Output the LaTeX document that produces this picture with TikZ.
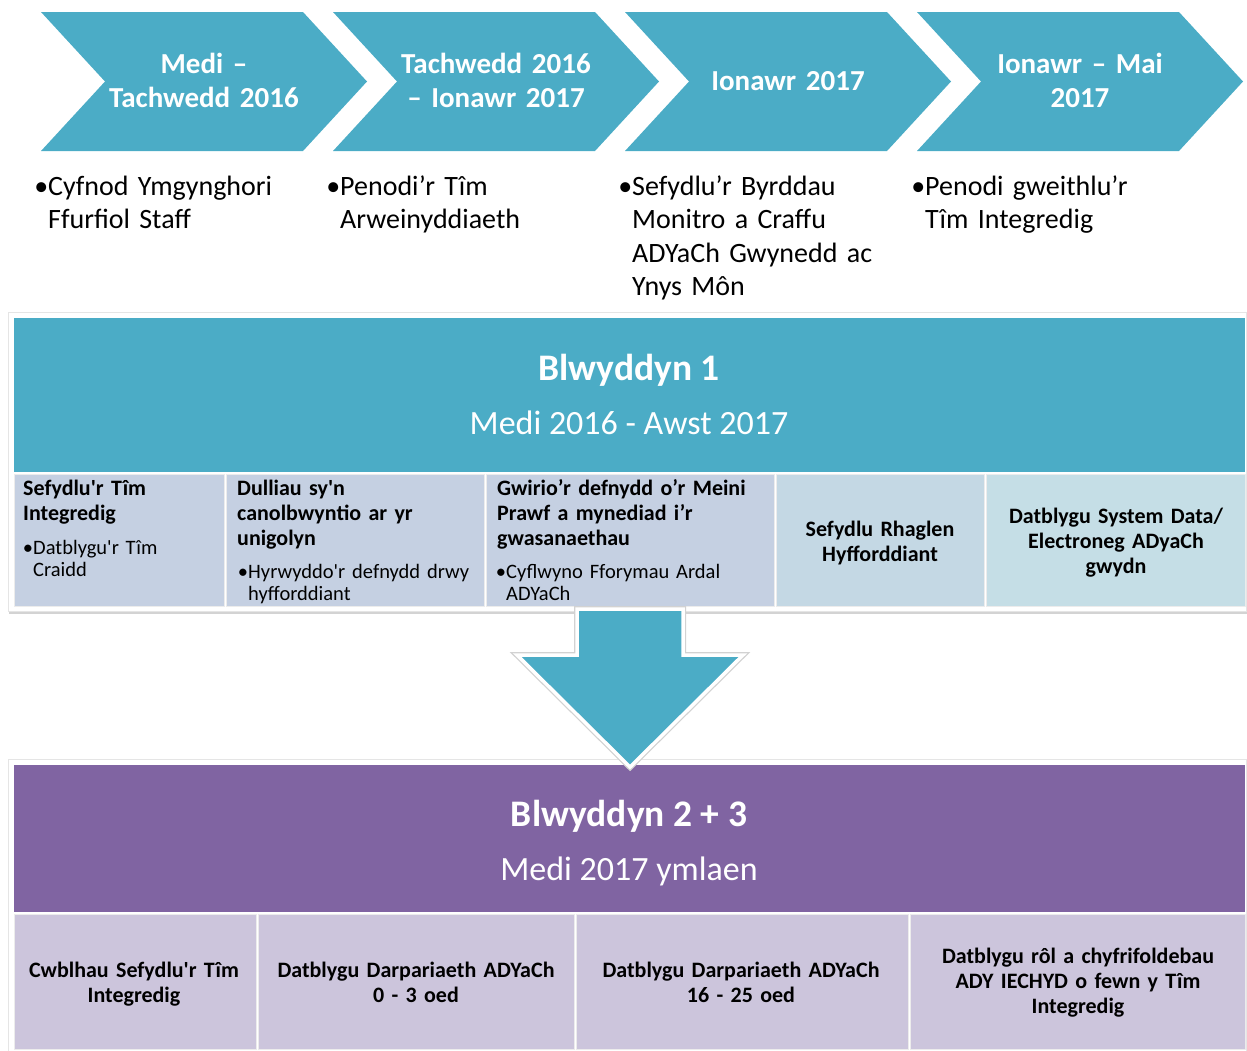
\documentclass[tikz,border=0pt]{standalone}
\usepackage{fontspec}
\setmainfont{Carlito}
\usepackage{xcolor}
\usepackage{tikz}
\usetikzlibrary{shadows}
\definecolor{stepteal}{HTML}{4BACC6}
\definecolor{yearpurple}{HTML}{8064A2}
\definecolor{boxblue}{HTML}{C5D0E2}
\definecolor{boxbluetwo}{HTML}{C4D8E4}
\definecolor{boxbluethree}{HTML}{C5DEE6}
\definecolor{boxlilac}{HTML}{CCC5DC}
\newcommand{\ap}{\textquotesingle}
\tikzset{
	chevtext/.style={text=white, anchor=base, align=center, text width=260pt, inner sep=0pt, font=\bfseries\fontsize{29}{34}\selectfont},
	pointtext/.style={anchor=base west, align=left, text width=280pt, inner sep=0pt, font=\fontsize{28}{33.5}\selectfont},
	yeartitle/.style={text=white, anchor=base, inner sep=0pt, font=\bfseries\fontsize{37.5}{42}\selectfont},
	yearsub/.style={text=white, anchor=base, inner sep=0pt, font=\fontsize{34}{40}\selectfont},
	headtext/.style={anchor=base west, align=left, text width=270pt, inner sep=0pt, font=\bfseries\fontsize{22}{25}\selectfont},
	subtext/.style={anchor=base west, align=left, text width=260pt, inner sep=0pt, font=\fontsize{20.5}{22}\selectfont},
	midtext/.style={anchor=base, align=center, text width=330pt, inner sep=0pt, font=\bfseries\fontsize{22}{25}\selectfont},
	frame/.style={draw=gray!20, fill=white, drop shadow={opacity=0.35, shadow xshift=1pt, shadow yshift=-3pt}},
	cell/.style={draw=white!85!gray, line width=1pt}
}

\begin{document}
\begin{tikzpicture}[x=1pt, y=-1pt]
				\useasboundingbox (0,0) rectangle (1247,1050);
				% steps
				\foreach \x in {41,333,625,917}
					\fill[stepteal] (\x,12) -- ++(262,0) -- ++(64,69.5) -- ++(-64,69.5) -- ++(-262,0) -- ++(64,-69.5) -- cycle;
				\node[chevtext] (step1) at (204,73) {Medi --\\Tachwedd 2016};
				\node[chevtext] (step2) at (496,73) {Tachwedd 2016\\-- Ionawr 2017};
				\node[chevtext] (step3) at (788,90) {Ionawr 2017};
				\node[chevtext] (step4) at (1080,73) {Ionawr -- Mai\\2017};
				\node[pointtext] (point1) at (48,195) {\llap{•}Cyfnod Ymgynghori\\Ffurfiol Staff};
				\node[pointtext] (point2) at (340,195) {\llap{•}Penodi’r Tîm\\Arweinyddiaeth};
				\node[pointtext] (point3) at (632,195) {\llap{•}Sefydlu’r Byrddau\\Monitro a Craffu\\ADYaCh Gwynedd ac\\Ynys Môn};
				\node[pointtext] (point4) at (925,195) {\llap{•}Penodi gweithlu’r\\Tîm Integredig};
				% blwyddyn 1
				\draw[frame] (8,312) rectangle (1246,611);
				\fill[stepteal] (14,318) rectangle (1245,472);
				\filldraw[cell, fill=boxblue] (14,474) rectangle (224,606);
				\filldraw[cell, fill=boxblue] (226,474) rectangle (484,606);
				\filldraw[cell, fill=boxblue] (486,474) rectangle (774,606);
				\filldraw[cell, fill=boxbluetwo] (776,474) rectangle (984,606);
				\filldraw[cell, fill=boxbluethree] (986,474) rectangle (1245,606);
				\node[yeartitle] (yr1) at (629,380) {Blwyddyn 1};
				\node[yearsub] (yr1sub) at (629,434) {Medi 2016 - Awst 2017};
				\node[headtext] (yr1head1) at (23,495) {Sefydlu\ap r Tîm\\Integredig};
				\node[subtext] (yr1sub1) at (33,554) {\llap{•}Datblygu\ap r Tîm\\Craidd};
				\node[headtext] (yr1head2) at (237,495) {Dulliau sy\ap n\\canolbwyntio ar yr\\unigolyn};
				\node[subtext] (yr1sub2) at (248,578) {\llap{•}Hyrwyddo\ap r defnydd drwy\\hyfforddiant};
				\node[headtext] (yr1head3) at (497,495) {Gwirio’r defnydd o’r Meini\\Prawf a mynediad i’r\\gwasanaethau};
				\node[subtext] (yr1sub3) at (506,578) {\llap{•}Cyflwyno Fforymau Ardal\\ADYaCh};
				\node[midtext] (yr1head4) at (880,536) {Sefydlu Rhaglen\\Hyfforddiant};
				\node[midtext] (yr1head5) at (1116,523) {Datblygu System Data/\\Electroneg ADyaCh\\gwydn};
				% blwyddyn 2 + 3
				\draw[frame] (8,759) rectangle (1246,1056);
				\fill[yearpurple] (14,765) rectangle (1245,912);
				\filldraw[cell, fill=boxlilac] (14,914) rectangle (256,1049);
				\filldraw[cell, fill=boxlilac] (258,914) rectangle (574,1049);
				\filldraw[cell, fill=boxlilac] (576,914) rectangle (908,1049);
				\filldraw[cell, fill=boxlilac] (910,914) rectangle (1245,1049);
				\node[yeartitle] (yr2) at (629,826) {Blwyddyn 2 + 3};
				\node[yearsub] (yr2sub) at (629,880) {Medi 2017 ymlaen};
				\node[midtext] (yr2head1) at (134,977) {Cwblhau Sefydlu\ap r Tîm\\Integredig};
				\node[midtext] (yr2head2) at (416,977) {Datblygu Darpariaeth ADYaCh\\0 - 3 oed};
				\node[midtext] (yr2head3) at (741,977) {Datblygu Darpariaeth ADYaCh\\16 - 25 oed};
				\node[midtext] (yr2head4) at (1078,963) {Datblygu rôl a chyfrifoldebau\\ADY IECHYD o fewn y Tîm\\Integredig};
				% arrow
				\draw[gray!35, line width=6pt, line join=miter]
					(577,609) -- (683,609) -- (683,655) -- (743,655) -- (630,767) -- (517,655) -- (577,655) -- cycle;
				\filldraw[stepteal, draw=white, line width=3.5pt, line join=miter]
					(577,609) -- (683,609) -- (683,655) -- (743,655) -- (630,767) -- (517,655) -- (577,655) -- cycle;
			\end{tikzpicture}
\end{document}
